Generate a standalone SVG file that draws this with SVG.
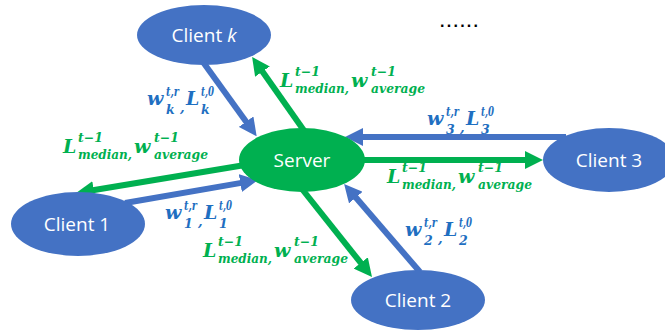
<svg xmlns="http://www.w3.org/2000/svg" width="665" height="331" viewBox="0 0 665 331">
<defs>
<style>
.node-c{fill:#4472C4}
.node-s{fill:#00B050}
.nt{font-family:"Open Sans","Noto Sans",sans-serif;font-size:19px;fill:#fff;text-anchor:middle}
.lb{stroke:#4472C4;stroke-width:6;fill:none}
.lg{stroke:#00B050;stroke-width:6;fill:none}
.m{font-family:"DejaVu Serif",serif;font-weight:bold;font-style:italic}
.gt{fill:#00B050}
.bt{fill:#1F6FC1}
.big{font-size:19px}
.sm{font-size:12.5px}
.cm{font-size:13.5px}
</style>
<marker id="ab" markerUnits="userSpaceOnUse" viewBox="0 0 18 18" markerWidth="18" markerHeight="18" refX="1" refY="9" orient="auto"><path d="M0,0 L18,9 L0,18 z" fill="#4472C4"/></marker>
<marker id="ag" markerUnits="userSpaceOnUse" viewBox="0 0 18 18" markerWidth="18" markerHeight="18" refX="1" refY="9" orient="auto"><path d="M0,0 L18,9 L0,18 z" fill="#00B050"/></marker>
</defs>
<rect width="665" height="331" fill="#fff"/>
<g id="connectors">
<line class="lb" x1="203" y1="62" x2="246.7" y2="122.5" marker-end="url(#ab)"/>
<line class="lg" x1="305" y1="132" x2="261.9" y2="70.8" marker-end="url(#ag)"/>
<line class="lg" x1="245" y1="165" x2="92.8" y2="190.2" marker-end="url(#ag)"/>
<line class="lb" x1="125" y1="203" x2="241.3" y2="182.9" marker-end="url(#ab)"/>
<line class="lb" x1="566" y1="137" x2="362" y2="137" marker-end="url(#ab)"/>
<line class="lg" x1="360" y1="160" x2="526" y2="160" marker-end="url(#ag)"/>
<line class="lg" x1="302" y1="189" x2="361.4" y2="263.7" marker-end="url(#ag)"/>
<line class="lb" x1="420" y1="272" x2="355.2" y2="196.8" marker-end="url(#ab)"/>
</g>
<g id="server"><ellipse class="node-s" cx="302" cy="160" rx="63" ry="32"/><text class="nt" x="302" y="167">Server</text></g>
<g id="client-k"><ellipse class="node-c" cx="204" cy="35" rx="67" ry="30"/><text class="nt" x="204" y="42">Client <tspan font-style="italic">k</tspan></text></g>
<g id="client-1"><ellipse class="node-c" cx="78" cy="224" rx="67" ry="32"/><text class="nt" x="77" y="231">Client 1</text></g>
<g id="client-2"><ellipse class="node-c" cx="418" cy="300" rx="67" ry="30"/><text class="nt" x="418" y="307">Client 2</text></g>
<g id="client-3"><ellipse class="node-c" cx="609" cy="160" rx="66" ry="32"/><text class="nt" x="609" y="167">Client 3</text></g>
<g id="dots"><text x="440" y="27" font-family="Liberation Sans,sans-serif" font-size="16" font-weight="bold" fill="#000" textLength="38" lengthAdjust="spacing">......</text></g>
<g id="labels">
<text class="m gt" transform="translate(280,87)"><tspan class="big" x="0" y="0">L</tspan><tspan class="sm" x="15" y="-11">t−1</tspan><tspan class="sm" x="15" y="6" textLength="54" lengthAdjust="spacingAndGlyphs">median,</tspan><tspan class="big" x="71" y="0">w</tspan><tspan class="sm" x="91" y="-11">t−1</tspan><tspan class="sm" x="91" y="6" textLength="54" lengthAdjust="spacingAndGlyphs">average</tspan></text>
<text class="m gt" transform="translate(63,153)"><tspan class="big" x="0" y="0">L</tspan><tspan class="sm" x="15" y="-11">t−1</tspan><tspan class="sm" x="15" y="6" textLength="54" lengthAdjust="spacingAndGlyphs">median,</tspan><tspan class="big" x="71" y="0">w</tspan><tspan class="sm" x="91" y="-11">t−1</tspan><tspan class="sm" x="91" y="6" textLength="54" lengthAdjust="spacingAndGlyphs">average</tspan></text>
<text class="m gt" transform="translate(387,183)"><tspan class="big" x="0" y="0">L</tspan><tspan class="sm" x="15" y="-11">t−1</tspan><tspan class="sm" x="15" y="6" textLength="54" lengthAdjust="spacingAndGlyphs">median,</tspan><tspan class="big" x="71" y="0">w</tspan><tspan class="sm" x="91" y="-11">t−1</tspan><tspan class="sm" x="91" y="6" textLength="54" lengthAdjust="spacingAndGlyphs">average</tspan></text>
<text class="m gt" transform="translate(203,257)"><tspan class="big" x="0" y="0">L</tspan><tspan class="sm" x="15" y="-11">t−1</tspan><tspan class="sm" x="15" y="6" textLength="54" lengthAdjust="spacingAndGlyphs">median,</tspan><tspan class="big" x="71" y="0">w</tspan><tspan class="sm" x="91" y="-11">t−1</tspan><tspan class="sm" x="91" y="6" textLength="54" lengthAdjust="spacingAndGlyphs">average</tspan></text>
<text class="m bt" transform="translate(147,105)"><tspan class="big" x="0" y="0">w</tspan><tspan class="sm" x="19" y="-9" textLength="13" lengthAdjust="spacingAndGlyphs">t,r</tspan><tspan class="sm" x="19" y="9">k</tspan><tspan class="cm" x="33" y="7">,</tspan><tspan class="big" x="39" y="0">L</tspan><tspan class="sm" x="54" y="-9" textLength="13" lengthAdjust="spacingAndGlyphs">t,0</tspan><tspan class="sm" x="54" y="9">k</tspan></text>
<text class="m bt" transform="translate(427,125)"><tspan class="big" x="0" y="0">w</tspan><tspan class="sm" x="19" y="-9" textLength="13" lengthAdjust="spacingAndGlyphs">t,r</tspan><tspan class="sm" x="19" y="9">3</tspan><tspan class="cm" x="33" y="7">,</tspan><tspan class="big" x="39" y="0">L</tspan><tspan class="sm" x="54" y="-9" textLength="13" lengthAdjust="spacingAndGlyphs">t,0</tspan><tspan class="sm" x="54" y="9">3</tspan></text>
<text class="m bt" transform="translate(165,219)"><tspan class="big" x="0" y="0">w</tspan><tspan class="sm" x="19" y="-9" textLength="13" lengthAdjust="spacingAndGlyphs">t,r</tspan><tspan class="sm" x="19" y="9">1</tspan><tspan class="cm" x="33" y="7">,</tspan><tspan class="big" x="39" y="0">L</tspan><tspan class="sm" x="54" y="-9" textLength="13" lengthAdjust="spacingAndGlyphs">t,0</tspan><tspan class="sm" x="54" y="9">1</tspan></text>
<text class="m bt" transform="translate(405,236)"><tspan class="big" x="0" y="0">w</tspan><tspan class="sm" x="19" y="-9" textLength="13" lengthAdjust="spacingAndGlyphs">t,r</tspan><tspan class="sm" x="19" y="9">2</tspan><tspan class="cm" x="33" y="7">,</tspan><tspan class="big" x="39" y="0">L</tspan><tspan class="sm" x="54" y="-9" textLength="13" lengthAdjust="spacingAndGlyphs">t,0</tspan><tspan class="sm" x="54" y="9">2</tspan></text>
</g>
</svg>
